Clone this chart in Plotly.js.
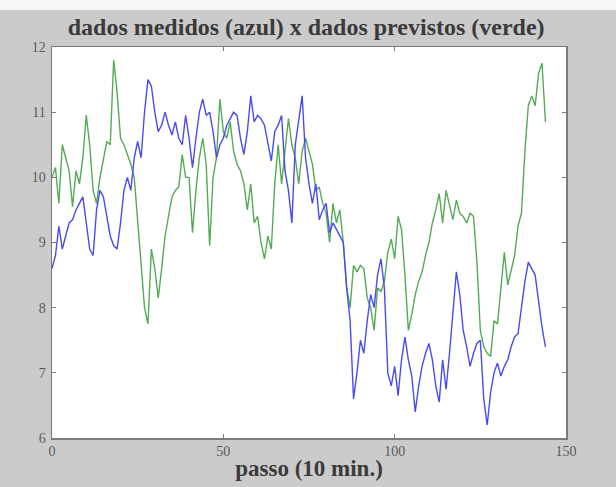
<!DOCTYPE html>
<html>
<head>
<meta charset="utf-8">
<script src="https://cdn.plot.ly/plotly-3.0.1.min.js"></script>
<style>html,body{margin:0;padding:0;background:#cbcbcb;}#chart{width:616px;height:487px;}</style>
</head>
<body>
<div id="chart"></div>
<script>
const measured = [8.6,8.8,9.25,8.9,9.1,9.3,9.35,9.5,9.6,9.7,9.3,8.9,8.8,9.5,9.8,9.7,9.4,9.1,8.95,8.9,
9.3,9.8,10.0,9.8,10.3,10.55,10.3,11.0,11.5,11.4,11.0,10.7,10.8,11.0,10.8,10.65,10.85,10.6,10.5,10.95,
10.6,10.15,10.6,11.0,11.2,10.95,11.0,10.7,10.3,10.5,10.6,10.8,10.9,11.0,10.95,10.6,10.35,10.7,11.25,10.85,
10.95,10.9,10.8,10.5,10.25,10.7,10.8,10.95,10.1,9.8,9.3,10.5,10.9,11.25,10.3,9.9,9.6,9.9,9.35,9.5,
9.6,9.15,9.3,9.2,9.1,9.0,8.3,7.8,6.6,7.0,7.5,7.3,7.8,8.2,8.0,8.5,8.75,8.3,7.0,6.8,
7.1,6.65,7.2,7.55,7.2,6.95,6.4,6.8,7.1,7.3,7.45,7.2,6.8,6.55,7.2,6.75,7.3,8.0,8.55,8.2,
7.65,7.4,7.1,7.3,7.45,7.5,6.6,6.2,6.7,7.0,7.15,6.95,7.1,7.2,7.4,7.55,7.6,8.0,8.4,8.7,
8.6,8.5,8.1,7.7,7.4];
const predicted = [10.0,10.15,9.6,10.5,10.3,10.1,9.55,10.1,9.9,10.3,10.95,10.5,9.8,9.6,10.0,10.3,10.55,10.5,11.8,11.3,
10.6,10.5,10.35,10.2,10.0,9.3,8.6,8.0,7.75,8.9,8.6,8.15,8.6,9.1,9.4,9.7,9.8,9.85,10.35,10.0,
10.0,9.15,9.8,10.3,10.6,10.2,8.95,10.0,10.3,11.2,10.7,10.6,10.85,10.4,10.2,10.1,9.9,9.5,9.9,9.3,
9.4,9.0,8.75,9.1,8.9,9.9,10.5,9.9,10.4,10.9,10.5,10.3,9.9,10.4,10.6,10.4,10.2,9.8,9.85,9.6,
9.45,9.0,9.6,9.3,9.5,9.0,8.3,8.0,8.65,8.55,8.65,8.6,8.15,8.0,7.65,8.3,8.25,8.4,8.85,9.05,
8.75,9.4,9.2,8.5,7.65,7.9,8.2,8.4,8.55,8.8,9.0,9.3,9.5,9.75,9.3,9.8,9.55,9.35,9.65,9.45,
9.4,9.3,9.45,9.4,8.7,7.65,7.4,7.3,7.25,7.8,7.75,8.3,8.85,8.35,8.6,8.8,9.25,9.45,10.4,11.1,
11.25,11.1,11.6,11.75,10.85];
const steps = measured.map((_, i) => i);
const xTicks = [0, 50, 100, 150];
const yTicks = [6, 7, 8, 9, 10, 11, 12];

const traces = [
  {x: steps, y: predicted, type: 'scatter', mode: 'lines', line: {color: '#55aa55', width: 1.4}, hoverinfo: 'skip'},
  {x: steps, y: measured, type: 'scatter', mode: 'lines', line: {color: '#4a4af2', width: 1.4}, hoverinfo: 'skip'}
];
const axisCommon = {
  showgrid: false, zeroline: false, showline: true, linecolor: '#7a7a7a', linewidth: 1.5,
  mirror: 'ticks', ticks: 'inside', ticklen: 4, tickcolor: '#7a7a7a',
  tickfont: {family: 'Liberation Serif, serif', size: 14, color: '#5a5a5a'}
};
const layout = {
  width: 616, height: 487,
  paper_bgcolor: '#cbcbcb', plot_bgcolor: '#ffffff',
  margin: {l: 52, r: 50, t: 47, b: 49},
  showlegend: false,
  title: {text: '<b>dados medidos (azul) x dados previstos (verde)</b>',
    font: {family: 'Liberation Serif, serif', size: 24, color: '#3a3a3a'},
    x: 0.497, xanchor: 'center', y: 1 - 27/487, yanchor: 'middle', yref: 'container'},
  xaxis: Object.assign({}, axisCommon, {range: [0, 150], tickvals: xTicks, ticktext: xTicks.map(String),
    title: {text: '<b>passo (10 min.)</b>', font: {family: 'Liberation Serif, serif', size: 23, color: '#3a3a3a'}, standoff: 1}}),
  yaxis: Object.assign({}, axisCommon, {range: [6, 12], tickvals: yTicks, ticktext: yTicks.map(String), ticklabelstandoff: 2}),
  shapes: [{type: 'rect', xref: 'paper', yref: 'paper', x0: -0.2, x1: 1.2, y0: 1 + 37/391, y1: 1 + 47/391,
    fillcolor: '#f7f7f7', line: {width: 0}, layer: 'below'}]
};
Plotly.newPlot('chart', traces, layout, {staticPlot: true, displayModeBar: false});
</script>
</body>
</html>
